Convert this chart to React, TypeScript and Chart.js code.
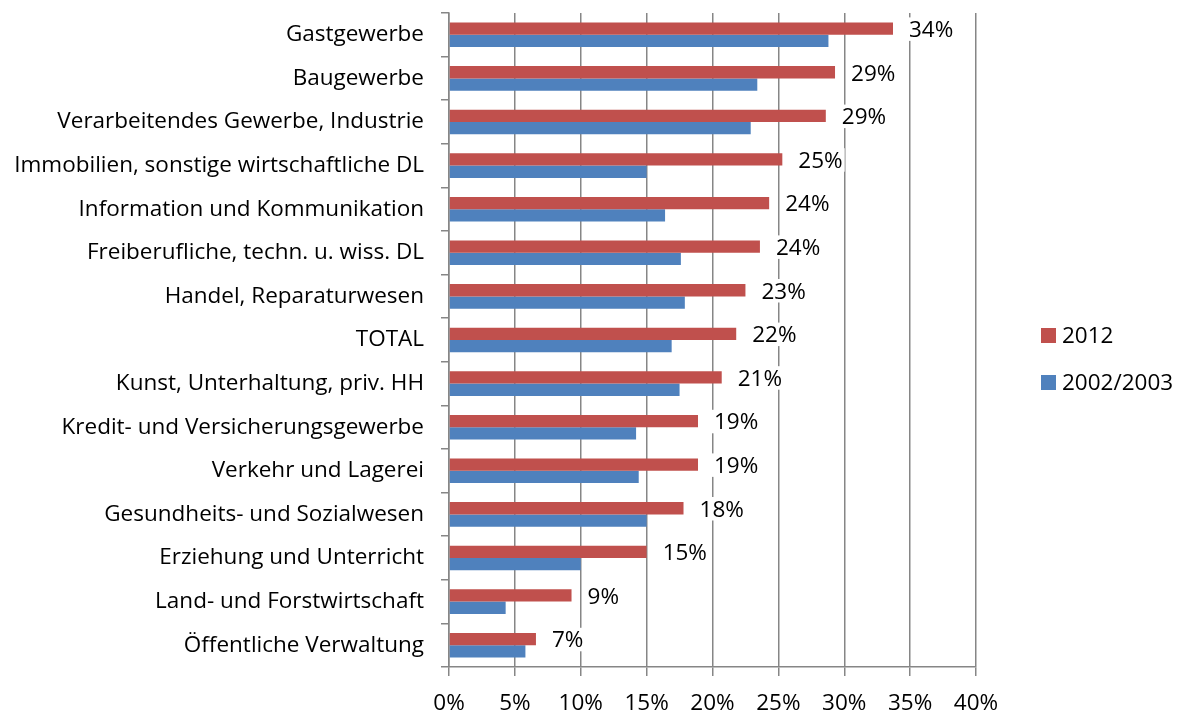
import React, { useEffect, useRef } from "react";
import { Chart, registerables } from "chart.js";

Chart.register(...registerables);

const categories = [
  "Gastgewerbe",
  "Baugewerbe",
  "Verarbeitendes Gewerbe, Industrie",
  "Immobilien, sonstige wirtschaftliche DL",
  "Information und Kommunikation",
  "Freiberufliche, techn. u. wiss. DL",
  "Handel, Reparaturwesen",
  "TOTAL",
  "Kunst, Unterhaltung, priv. HH",
  "Kredit- und Versicherungsgewerbe",
  "Verkehr und Lagerei",
  "Gesundheits- und Sozialwesen",
  "Erziehung und Unterricht",
  "Land- und Forstwirtschaft",
  "Öffentliche Verwaltung",
];

const values2012 = [33.7, 29.3, 28.6, 25.3, 24.3, 23.6, 22.5, 21.8, 20.7, 18.9, 18.9, 17.8, 15.0, 9.3, 6.6];
const values2002 = [28.8, 23.4, 22.9, 15.0, 16.4, 17.6, 17.9, 16.9, 17.5, 14.2, 14.4, 15.0, 10.0, 4.3, 5.8];

const seriesLabels = ["2012", "2002/2003"];
const seriesColors = ["#C0504D", "#4F81BD"];

const xMin = 0;
const xMax = 40;
const xStep = 5;

const FONT_FAMILY = "'Open Sans', Lato, sans-serif";
const FONT_SIZE = 22.5;
const GRID = "#868686";

const dataLabelPlugin = {
  id: "dataLabels2012",
  afterDatasetsDraw(chart: any) {
    const ctx = chart.ctx;
    const meta = chart.getDatasetMeta(0);
    const data = chart.data.datasets[0].data as number[];
    ctx.save();
    ctx.font = `${FONT_SIZE}px ${FONT_FAMILY}`;
    ctx.textBaseline = "middle";
    ctx.textAlign = "left";
    meta.data.forEach((el: any, i: number) => {
      const text = Math.round(data[i]) + "%";
      const x = el.x + 16;
      const y = el.y;
      const w = ctx.measureText(text).width;
      ctx.fillStyle = "#ffffff";
      ctx.fillRect(x - 2, y - FONT_SIZE / 2, w + 4, FONT_SIZE + 1);
      ctx.fillStyle = "#000000";
      ctx.fillText(text, x, y + 2);
    });
    ctx.restore();
  },
};

const legendPlugin = {
  id: "rightLegend",
  afterDraw(chart: any) {
    const ctx = chart.ctx;
    const x = chart.chartArea.right + 65;
    const center = chart.height / 2 + 3.5;
    const spacing = 47;
    const n = chart.data.datasets.length;
    ctx.save();
    ctx.font = `${FONT_SIZE}px ${FONT_FAMILY}`;
    ctx.textBaseline = "middle";
    ctx.textAlign = "left";
    chart.data.datasets.forEach((ds: any, i: number) => {
      const y = center + (i - (n - 1) / 2) * spacing;
      ctx.fillStyle = ds.backgroundColor;
      ctx.fillRect(x, y - 7.5, 15, 15);
      ctx.fillStyle = "#000000";
      ctx.fillText(ds.label, x + 21, y + 1);
    });
    ctx.restore();
  },
};

export default function App() {
  const canvasRef = useRef<HTMLCanvasElement | null>(null);

  useEffect(() => {
    if (!canvasRef.current) return;
    const chart = new Chart(canvasRef.current, {
      type: "bar",
      data: {
        labels: categories,
        datasets: [
          {
            label: seriesLabels[0],
            data: values2012,
            backgroundColor: seriesColors[0],
            categoryPercentage: 0.565,
            barPercentage: 1,
          },
          {
            label: seriesLabels[1],
            data: values2002,
            backgroundColor: seriesColors[1],
            categoryPercentage: 0.565,
            barPercentage: 1,
          },
        ],
      },
      options: {
        indexAxis: "y",
        responsive: false,
        animation: false,
        layout: { padding: { left: 0, top: 13, right: 202, bottom: 0 } },
        plugins: {
          legend: { display: false },
          tooltip: { enabled: false },
        },
        scales: {
          x: {
            type: "linear",
            min: xMin,
            max: xMax,
            ticks: {
              stepSize: xStep,
              callback: (v: any) => v + "%",
              color: "#000",
              font: { family: FONT_FAMILY, size: FONT_SIZE },
              padding: 14,
            },
            grid: {
              color: GRID,
              lineWidth: 1.5,
              tickLength: 9,
              drawTicks: true,
            },
            border: { color: GRID, width: 1.5 },
            afterFit: (scale: any) => {
              scale.height = 44;
              scale.paddingLeft = 0;
              scale.paddingRight = 0;
            },
          },
          y: {
            type: "category",
            offset: true,
            ticks: {
              color: "#000",
              font: { family: FONT_FAMILY, size: FONT_SIZE },
              padding: 17,
            },
            grid: {
              offset: true,
              drawOnChartArea: false,
              drawTicks: true,
              tickLength: 8,
              color: GRID,
              lineWidth: 1.5,
            },
            border: { color: GRID, width: 1.5 },
            afterFit: (scale: any) => {
              scale.width = 449;
              scale.paddingTop = 0;
              scale.paddingBottom = 0;
            },
          },
        },
      },
      plugins: [dataLabelPlugin, legendPlugin],
    });
    return () => chart.destroy();
  }, []);

  return (
    <div style={{ position: "fixed", left: 0, top: 0, width: 1178, height: 711, background: "#fff" }}>
      <canvas ref={canvasRef} width={1178} height={711} style={{ display: "block" }} />
    </div>
  );
}
